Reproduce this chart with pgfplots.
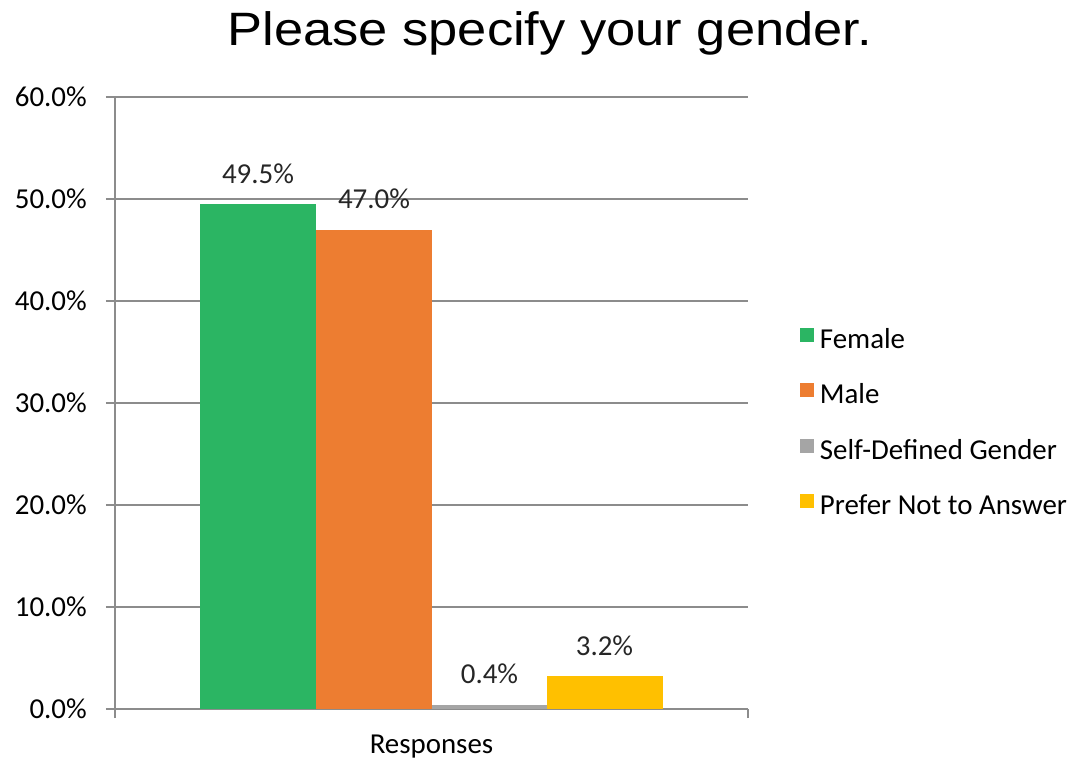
\documentclass[border=0pt]{standalone}
\usepackage{pgfplots}
\pgfplotsset{compat=1.18}
\usepackage{fontspec}
\setmainfont{Carlito}
\newfontfamily\titlefont{Liberation Sans}

\definecolor{cFemale}{HTML}{2BB563}
\definecolor{cMale}{HTML}{ED7D31}
\definecolor{cSelf}{HTML}{A5A5A5}
\definecolor{cPrefer}{HTML}{FFC000}
\definecolor{gridgray}{HTML}{8C8C8C}

\begin{document}
\begin{tikzpicture}
\begin{axis}[
    scale only axis,
    width=633bp, height=612bp,
    xmin=0, xmax=633,
    ymin=0, ymax=60,
    ybar, bar width=116, bar shift=0pt,
    axis line style={gridgray, line width=1.2bp},
    axis x line*=bottom,
    axis y line*=left,
    ytick={0,10,...,60},
    yticklabels={0.0\%,10.0\%,20.0\%,30.0\%,40.0\%,50.0\%,60.0\%},
    yticklabel style={font=\fontsize{29}{34}\selectfont, anchor=east, inner sep=0pt, xshift=-19bp},
    ymajorgrids,
    grid style={gridgray, line width=1.2bp},
    major tick length=9bp,
    tick align=outside,
    tick style={gridgray, line width=1.2bp},
    xtick={0,633},
    xticklabels={},
    xlabel={Responses},
    xlabel style={font=\fontsize{29}{34}\selectfont, at={(axis description cs:0.5,0)}, anchor=base, yshift=-44bp},
    nodes near coords,
    nodes near coords style={font=\fontsize{29}{34}\selectfont, anchor=base, inner sep=0pt, yshift=21bp, text=black!85},
    point meta=explicit symbolic,
    legend style={draw=none, fill=none, at={(rel axis cs:1.077,0.466)}, anchor=west,
        font=\fontsize{29}{34}\selectfont, row sep=30bp,
        nodes={inner sep=0pt, text height=18bp, text depth=5bp}},
    legend cell align=left,
    legend image code/.code={\fill[#1] (0bp,0bp) rectangle (14bp,14bp);},
    /tikz/every odd column/.append style={column sep=6bp},
    clip=false,
]
\addplot[fill=cFemale, draw=none] coordinates {(143,49.5) [49.5\%]};
\addlegendentry{Female}
\addplot[fill=cMale, draw=none] coordinates {(259,47.0) [47.0\%]};
\addlegendentry{Male}
\addplot[fill=cSelf, draw=none] coordinates {(374.5,0.4) [0.4\%]};
\addlegendentry{Self-Defined Gender}
\addplot[fill=cPrefer, draw=none] coordinates {(489.5,3.2) [3.2\%]};
\addlegendentry{Prefer Not to Answer}
\node[font=\titlefont\fontsize{47}{56}\selectfont, anchor=base, xscale=1.12, inner sep=0pt]
    at ([yshift=51bp]rel axis cs:0.687,1) {Please specify your gender.};
\end{axis}
\pgfresetboundingbox
\path (-115bp,-58bp) rectangle (963bp,709bp);
\end{tikzpicture}
\end{document}
